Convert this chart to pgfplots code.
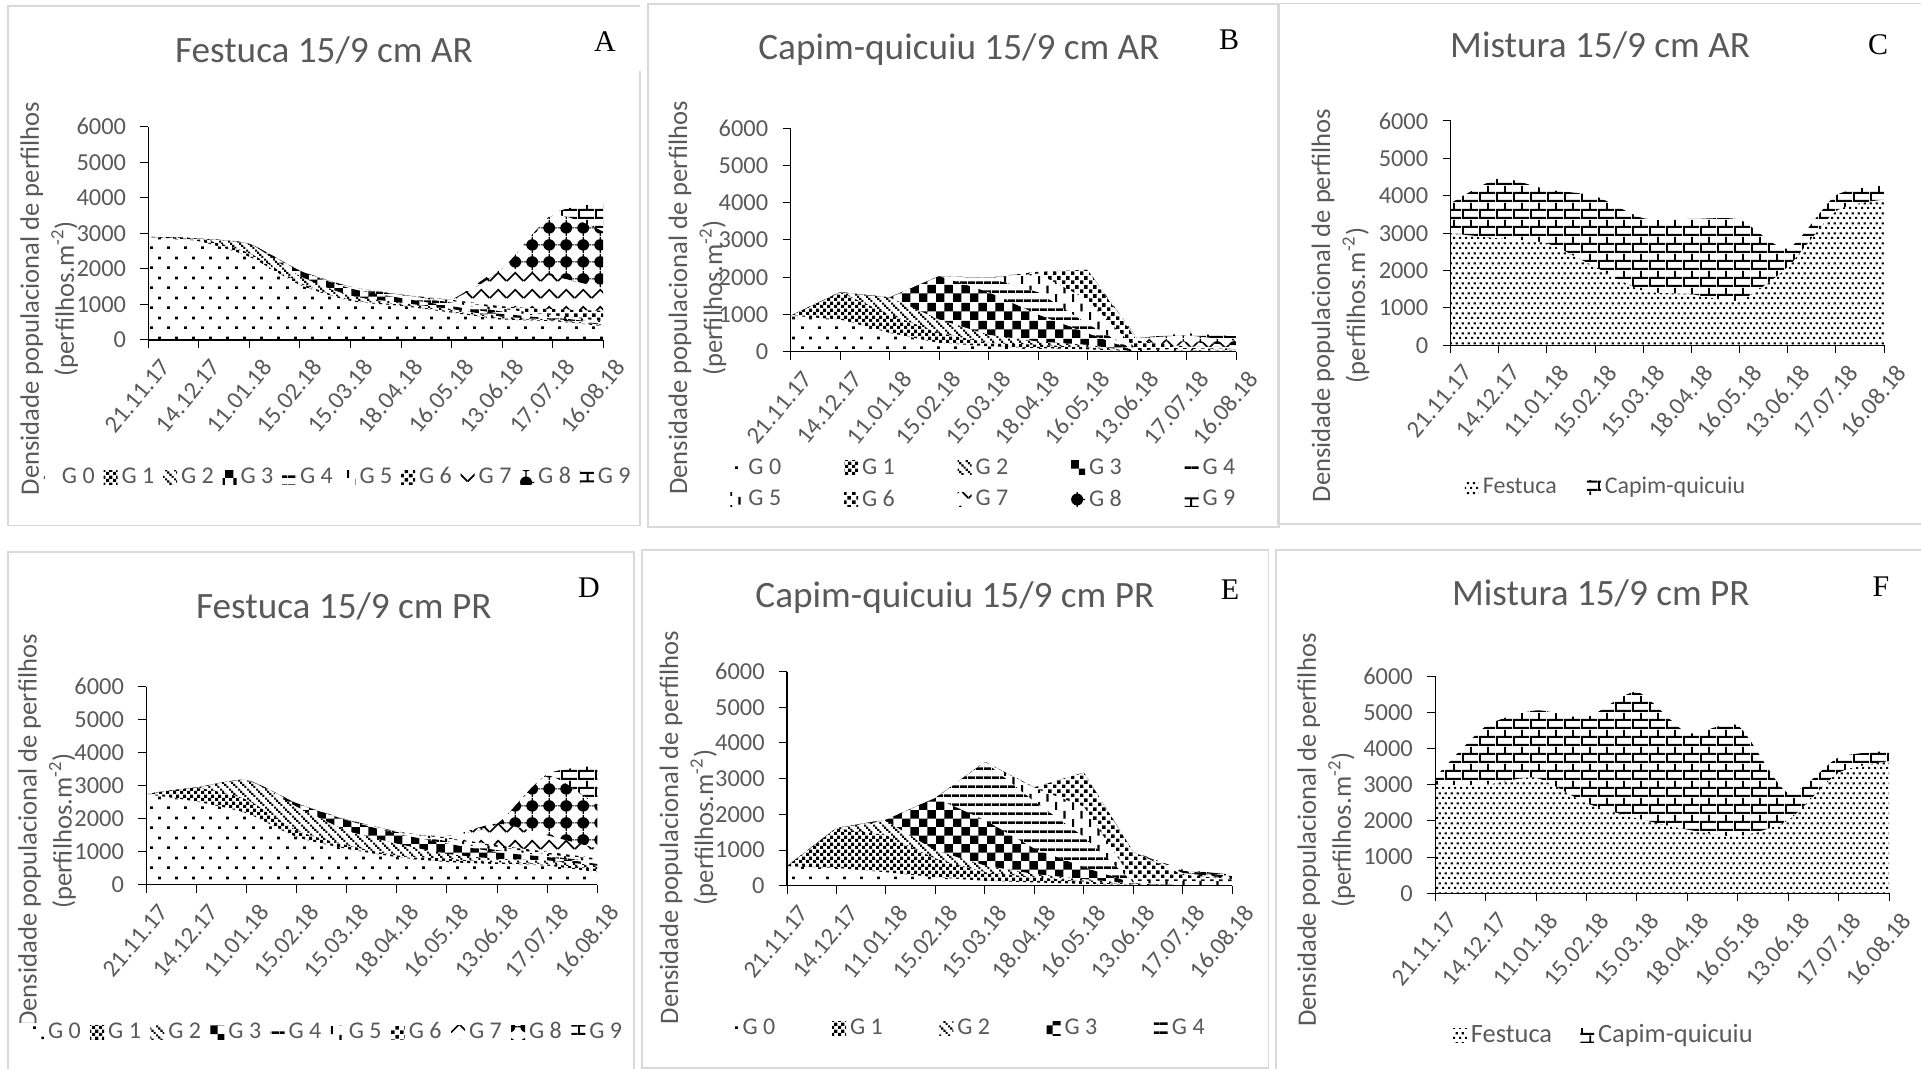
\documentclass[border=0pt]{standalone}
\usepackage{fontspec}
\setmainfont{Carlito}
\newfontfamily\letterfont{Liberation Serif}
\usepackage{pgfplots}
\usepackage{pgfplotstable}
\pgfplotsset{compat=1.18}
\usetikzlibrary{patterns}
\definecolor{tx}{HTML}{595959}
\definecolor{fr}{HTML}{D9D9D9}
\newcommand\R[4]{\pgfpathrectangle{\pgfqpoint{#1pt}{#2pt}}{\pgfqpoint{#3pt}{#4pt}}}
\pgfdeclarepatternformonly{pg0}{\pgfqpoint{0pt}{0pt}}{\pgfqpoint{8.35pt}{10pt}}{\pgfqpoint{8.35pt}{10pt}}{\R{0}{0}{1.4}{1.4}\R{4.17}{5}{1.4}{1.4}\pgfusepath{fill}}
\pgfdeclarepatternformonly{pg1}{\pgfqpoint{0pt}{0pt}}{\pgfqpoint{3.3pt}{3.3pt}}{\pgfqpoint{3.3pt}{3.3pt}}{\R{0}{0}{1.65}{1.65}\R{1.65}{1.65}{1.65}{1.65}\pgfusepath{fill}}
\pgfdeclarepatternformonly{pg2}{\pgfqpoint{0pt}{0pt}}{\pgfqpoint{4.35pt}{4.35pt}}{\pgfqpoint{4.35pt}{4.35pt}}{\R{0}{3.26}{1.09}{1.09}\R{1.09}{2.17}{1.09}{1.09}\R{2.17}{1.09}{1.09}{1.09}\R{3.26}{0}{1.09}{1.09}\pgfusepath{fill}}
\pgfdeclarepatternformonly{pg3}{\pgfqpoint{0pt}{0pt}}{\pgfqpoint{8.7pt}{8.7pt}}{\pgfqpoint{8.7pt}{8.7pt}}{\R{0}{0}{4.35}{4.35}\R{4.35}{4.35}{4.35}{4.35}\pgfusepath{fill}}
\pgfdeclarepatternformonly{pg4}{\pgfqpoint{0pt}{0pt}}{\pgfqpoint{4pt}{4.35pt}}{\pgfqpoint{4pt}{4.35pt}}{\R{0}{0}{4}{1.3}\pgfusepath{fill}}
\pgfdeclarepatternformonly{pg5}{\pgfqpoint{0pt}{0pt}}{\pgfqpoint{8.7pt}{8.7pt}}{\pgfqpoint{8.7pt}{8.7pt}}{\R{0}{0}{1.1}{4}\R{4.35}{4.35}{1.1}{4}\pgfusepath{fill}}
\pgfdeclarepatternformonly{pg6}{\pgfqpoint{0pt}{0pt}}{\pgfqpoint{4.35pt}{4.35pt}}{\pgfqpoint{4.35pt}{4.35pt}}{\R{0}{0}{1.8}{1.8}\R{2.17}{2.17}{1.8}{1.8}\pgfusepath{fill}}
\pgfdeclarepatternformonly{pg7}{\pgfqpoint{0pt}{0pt}}{\pgfqpoint{8.35pt}{8.35pt}}{\pgfqpoint{8.35pt}{8.35pt}}{\pgfsetlinewidth{0.85pt}\pgfpathmoveto{\pgfqpoint{0pt}{1.5pt}}\pgfpathlineto{\pgfqpoint{4.17pt}{5.7pt}}\pgfpathlineto{\pgfqpoint{8.35pt}{1.5pt}}\pgfusepath{stroke}}
\pgfdeclarepatternformonly{pg8}{\pgfqpoint{0pt}{0pt}}{\pgfqpoint{8.35pt}{8.5pt}}{\pgfqpoint{8.35pt}{8.5pt}}{\pgfpathcircle{\pgfqpoint{4.17pt}{4.25pt}}{3pt}\R{0}{3.95}{8.35}{0.6}\R{3.87}{0}{0.6}{8.5}\pgfusepath{fill}}
\pgfdeclarepatternformonly{pg9}{\pgfqpoint{0pt}{0pt}}{\pgfqpoint{8.5pt}{8.5pt}}{\pgfqpoint{8.5pt}{8.5pt}}{\R{0}{0}{8.5}{1.1}\R{0}{4.25}{8.5}{1.1}\R{0}{0}{1}{4.25}\R{4.25}{4.25}{1}{4.25}\pgfusepath{fill}}
\pgfdeclarepatternformonly{pgd}{\pgfqpoint{0pt}{0pt}}{\pgfqpoint{2.85pt}{5pt}}{\pgfqpoint{2.85pt}{5pt}}{\R{0}{0}{1.1}{1.1}\R{1.42}{2.5}{1.1}{1.1}\pgfusepath{fill}}
\pgfplotstableread{
x G0 G1 G2 G3 G4 G5 G6 G7 G8 G9
0 2900 0 0 0 0 0 0 0 0 0
1 2780 70 0 0 0 0 0 0 0 0
2 2340 100 260 0 0 0 0 0 0 0
3 1550 60 190 150 0 0 0 0 0 0
4 1100 30 120 200 50 0 0 0 0 0
5 960 30 60 130 80 20 0 0 0 0
6 770 30 70 80 100 50 30 20 0 0
7 580 30 50 80 60 80 70 1050 0 0
8 530 20 20 30 40 60 170 930 1700 50
9 390 20 20 20 30 50 290 630 1600 800
}\tabA
\pgfplotstableread{
x G0 G1 G2 G3 G4 G5 G6 G7 G8 G9
0 970 0 0 0 0 0 0 0 0 0
1 870 730 0 0 0 0 0 0 0 0
2 510 490 460 0 0 0 0 0 0 0
3 240 270 360 1160 0 0 0 0 0 0
4 150 90 220 1140 385 0 0 0 0 0
5 100 90 90 720 600 500 50 0 0 0
6 70 50 70 310 250 650 800 0 0 0
7 0 0 0 0 0 50 250 70 0 0
8 10 20 10 0 0 40 60 130 180 50
9 30 20 10 0 0 40 30 50 120 120
}\tabB
\pgfplotstableread{
x F C
0 3000 800
1 2860 1600
2 2730 1440
3 2100 1890
4 1460 1940
5 1370 2010
6 1210 2150
7 2100 490
8 3590 420
9 3900 380
}\tabC
\pgfplotstableread{
x G0 G1 G2 G3 G4 G5 G6 G7 G8 G9
0 2750 0 0 0 0 0 0 0 0 0
1 2520 410 20 0 0 0 0 0 0 0
2 2170 410 590 0 0 0 0 0 0 0
3 1450 200 720 100 0 0 0 0 0 0
4 1090 110 450 310 20 0 0 0 0 0
5 840 50 360 300 50 20 0 0 0 0
6 690 100 150 310 70 80 30 50 0 0
7 630 50 110 200 60 100 50 650 0 0
8 580 50 110 100 40 50 70 500 1800 50
9 380 100 100 50 50 70 50 300 1270 1230
}\tabD
\pgfplotstableread{
x G0 G1 G2 G3 G4 G5 G6 G7 G8 G9
0 550 0 0 0 0 0 0 0 0 0
1 500 1110 10 0 0 0 0 0 0 0
2 380 1040 400 30 0 0 0 0 0 0
3 240 520 230 1470 0 0 0 0 0 0
4 140 240 190 1270 1630 0 0 0 0 0
5 95 145 90 710 1320 380 20 0 0 0
6 50 70 70 330 850 850 950 0 0 0
7 0 30 30 10 25 45 810 0 0 0
8 10 0 0 0 0 130 170 50 60 30
9 10 0 0 0 0 120 60 20 60 40
}\tabE
\pgfplotstableread{
x F C
0 3000 200
1 3000 1610
2 3190 1860
3 2490 2370
4 2070 3490
5 1760 2670
6 1580 3050
7 2020 750
8 3330 420
9 3650 280
}\tabF
\pgfplotsset{
 panel/.style n args={4}{
  anchor=south west, at={(#1pt,#2pt)}, width=#3pt, height=#4pt, scale only axis,
  xmin=0, xmax=9, ymin=0, ymax=6000,
  stack plots=y, axis on top,
  axis lines=left, axis line style={-, line width=0.6pt},
  xtick={0,...,9}, ytick={0,1000,...,6000},
  xticklabels={21.11.17,14.12.17,11.01.18,15.02.18,15.03.18,18.04.18,16.05.18,13.06.18,17.07.18,16.08.18},
  tick align=outside, major tick length=4pt,
  tick style={black, line width=0.5pt},
  /pgf/number format/assume math mode=true,
  /pgf/number format/1000 sep={},
  yticklabel style={font=\fontsize{12.2}{13}\selectfont, text=tx, inner sep=1.5pt, xshift=-5.5pt},
  xticklabel style={font=\fontsize{12.2}{13}\selectfont, text=tx, rotate=50, anchor=north east, inner sep=0pt, xshift=0pt, yshift=-7pt},
  ylabel={Densidade populacional de perfilhos\\(perfilhos.m\textsuperscript{-2})},
  y label style={anchor=center, align=center, text=tx, font=\fontsize{13.3}{17.5}\selectfont},
  title style={anchor=center, yshift=-6pt, text=tx, font=\fontsize{18.6}{20}\selectfont},
  legend image code/.code={\path[##1,draw=none] (0pt,-3.5pt) rectangle (7pt,3.5pt);},
  legend cell align=left,
  legend style={draw=none, fill=none, anchor=west, inner sep=0pt, outer sep=0pt, nodes={inner sep=0pt}, font=\fontsize{12}{12}\selectfont, text=tx, /tikz/row sep=6.5pt},
 },
 tit/.style 2 args={title style={at={(axis description cs:#1,#2)}}},
 yl/.style 2 args={y label style={at={(axis description cs:#1,#2)}}},
 leg/.style n args={3}{legend style={at={(axis description cs:#1,#2)}, /tikz/every odd column/.append style={column sep=2pt}, /tikz/every even column/.append style={column sep=#3pt}}},
 sm/.style={every axis plot/.append style={smooth, tension=0.4}},
}
\newcommand\tenseries[2]{%
 \addplot[draw=none,pattern=pg0] table[x=x,y=G0]{#1}\closedcycle; \addlegendentry{G 0}
 \addplot[draw=none,pattern=pg1] table[x=x,y=G1]{#1}\closedcycle; \addlegendentry{G 1}
 \addplot[draw=none,pattern=pg2] table[x=x,y=G2]{#1}\closedcycle; \addlegendentry{G 2}
 \addplot[draw=none,pattern=pg3] table[x=x,y=G3]{#1}\closedcycle; \addlegendentry{G 3}
 \addplot[draw=none,pattern=pg4] table[x=x,y=G4]{#1}\closedcycle; \addlegendentry{G 4}
 \addplot[draw=none,pattern=pg5] table[x=x,y=G5]{#1}\closedcycle; #2
 \addplot[draw=none,pattern=pg6] table[x=x,y=G6]{#1}\closedcycle;
 \addplot[draw=none,pattern=pg7] table[x=x,y=G7]{#1}\closedcycle;
 \addplot[draw=none,pattern=pg8] table[x=x,y=G8]{#1}\closedcycle;
 \addplot[draw=none,pattern=pg9] table[x=x,y=G9]{#1}\closedcycle;
}
\newcommand\twoseries[1]{%
 \addplot[draw=none,pattern=pgd] table[x=x,y=F]{#1}\closedcycle; \addlegendentry{Festuca}
 \addplot[draw=none,pattern=pg9] table[x=x,y=C]{#1}\closedcycle; \addlegendentry{Capim-quicuiu}
}
\begin{document}
\begin{tikzpicture}
\useasboundingbox (0pt,0pt) rectangle (960.5pt,534.5pt);
% A
\begin{axis}[panel={74.2}{364.5}{227.4}{106.6}, sm,
  title={Festuca 15/9 cm AR}, tit={.386}{1.357}, yl={-.218}{.194},
  legend columns=10, leg={-.2296}{-.644}{4.4}]
 \tenseries{\tabA}{\addlegendentry{G 5}}
 \addlegendentry{G 6}\addlegendentry{G 7}\addlegendentry{G 8}\addlegendentry{G 9}
\end{axis}
% B
\begin{axis}[panel={395.3}{358.55}{222.7}{111.9},
  title={Capim-quicuiu 15/9 cm AR}, tit={.378}{1.353}, yl={-.209}{.241},
  legend columns=5, leg={-.135}{-.59}{31.4}]
 \tenseries{\tabB}{\addlegendentry{G 5}}
 \addlegendentry{G 6}\addlegendentry{G 7}\addlegendentry{G 8}\addlegendentry{G 9}
\end{axis}
% C
\begin{axis}[panel={725.3}{361.8}{216.7}{112.2}, sm,
  title={Mistura 15/9 cm AR}, tit={.345}{1.335}, yl={-.254}{.178},
  legend columns=2, leg={.033}{-.632}{15}]
 \twoseries{\tabC}
\end{axis}
% D
\begin{axis}[panel={73.15}{92.1}{225.5}{99}, sm,
  title={Festuca 15/9 cm PR}, tit={.438}{1.408}, yl={-.22}{.272},
  legend columns=10, leg={-.302}{-.745}{4.7},
  legend style={fill=white, inner xsep=10pt}]
 \tenseries{\tabD}{\addlegendentry{G 5}}
 \addlegendentry{G 6}\addlegendentry{G 7}\addlegendentry{G 8}\addlegendentry{G 9}
\end{axis}
% E
\begin{axis}[panel={393.5}{91.6}{222.65}{107.1},
  title={Capim-quicuiu 15/9 cm PR}, tit={.377}{1.344}, yl={-.221}{.272},
  legend columns=5, leg={-.14}{-.666}{28.3}]
 \tenseries{\tabE}{}
\end{axis}
% F
\begin{axis}[panel={717.6}{87.85}{226.9}{108.65}, sm,
  title={Mistura 15/9 cm PR}, tit={.365}{1.378}, yl={-.24}{.291},
  legend columns=2, leg={.039}{-.654}{14},
  legend style={font=\fontsize{13.2}{13}\selectfont}]
 \twoseries{\tabF}
\end{axis}
\begin{scope}[x=0.5pt,y=0.5pt,draw=fr,line width=0.7pt]
 \draw (640,998) -- (640,543.4) -- (8,543.4) -- (8,1063) -- (640,1063);
 \draw (648,998) -- (648,542) -- (1279,542) -- (1279,1065) -- (648,1065) -- cycle;
 \draw (1921,545) -- (1278,545) -- (1278,1065.6) -- (1921,1065.6);
 \draw (8,0) -- (8,517) -- (634,517) -- (634,0);
 \draw (642,1) -- (642,519) -- (1268.6,519) -- (1268.6,1) -- cycle;
 \draw (1276,0) -- (1276,519) -- (1921,519);
\end{scope}
\begin{scope}[x=0.5pt,y=0.5pt]
 \node[font=\letterfont\fontsize{15}{16}\selectfont] at (605,1027) {A};
 \node[font=\letterfont\fontsize{15}{16}\selectfont] at (1229,1029) {B};
 \node[font=\letterfont\fontsize{15}{16}\selectfont] at (1878,1024.5) {C};
 \node[font=\letterfont\fontsize{15}{16}\selectfont] at (589,481) {D};
 \node[font=\letterfont\fontsize{15}{16}\selectfont] at (1230,479) {E};
 \node[font=\letterfont\fontsize{15}{16}\selectfont] at (1881,482) {F};
\end{scope}
\end{tikzpicture}
\end{document}
